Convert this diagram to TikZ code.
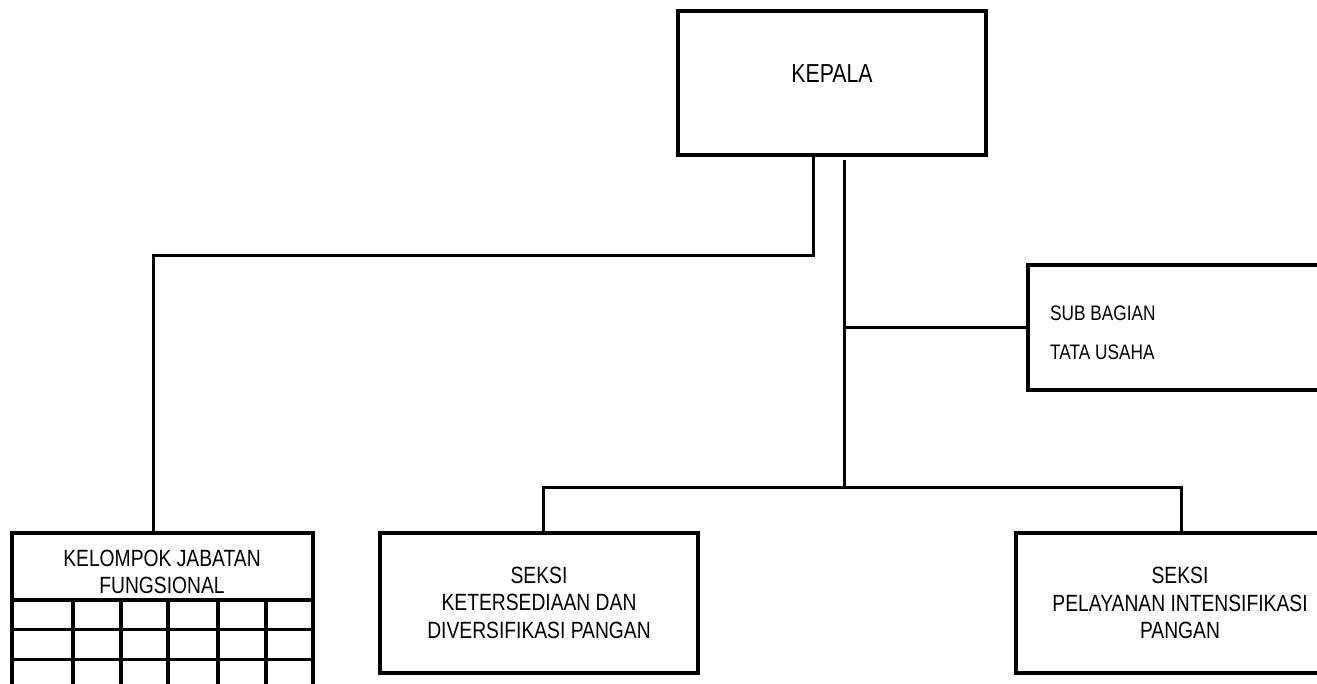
\documentclass[tikz,border=0pt]{standalone}
\usepackage{fontspec}
\setmainfont{Liberation Sans}[FakeStretch=0.82]
\begin{document}
\begin{tikzpicture}[x=1pt,y=1pt,
  box/.style={draw, line width=4pt, inner sep=0pt, outer sep=0pt},
  conn/.style={line width=3pt},
  gridv/.style={line width=4pt},
  gridh/.style={line width=3pt},
  bigtxt/.style={font=\fontsize{26}{30}\selectfont},
  midtxt/.style={align=center, inner sep=0pt, font=\fontsize{23.5}{27.5}\selectfont},
  smalltxt/.style={align=left, inner sep=0pt, font=\fontsize{21}{39}\selectfont}]
\useasboundingbox (0,0) rectangle (1317,684);
\fill[white] (0,0) rectangle (1317,684);
\clip (0,0) rectangle (1317,684);

% boxes
\node[box, minimum width=308pt, minimum height=144pt] (kepala) at (832,601) {};
\node[bigtxt] (kepalatxt) at (832,610) {KEPALA};

\node[box, minimum width=340pt, minimum height=125pt] (sub) at (1198,356.5) {};
\node[smalltxt, anchor=west] (subtxt) at (1050,351.5) {SUB BAGIAN\\TATA USAHA};

\node[box, minimum width=318pt, minimum height=140pt] (ket) at (539,81) {};
\node[midtxt] (kettxt) at (539,81.5) {SEKSI\\KETERSEDIAAN DAN\\DIVERSIFIKASI PANGAN};

\node[box, minimum width=328pt, minimum height=140pt] (pel) at (1180,81) {};
\node[midtxt] (peltxt) at (1180,81) {SEKSI\\PELAYANAN INTENSIFIKASI\\PANGAN};

\node[box, minimum width=301pt, minimum height=67pt] (kjf) at (162.5,117.5) {};
\node[midtxt] (kjftxt) at (162,112) {KELOMPOK JABATAN\\FUNGSIONAL};

% KJF grid below header
\draw[gridv] (kjf.south west) -- ++(0,-120);
\draw[gridv] (kjf.south east) -- ++(0,-120);
\foreach \gx in {73,121,168,218,266} {
  \draw[gridv] (\gx,84) -- (\gx,-20);
}
\draw[gridh] (12,54) -- (313,54);
\draw[gridh] (12,24) -- (313,24);

% connectors
\coordinate (lc) at (153,428);
\draw[conn] ([xshift=-19pt]kepala.south) |- (lc) -- (lc |- kjf.north);

\coordinate (ct) at (844,524);
\coordinate (cb) at (844,196);
\draw[conn] (ct) -- (cb);
\draw[conn] (ct |- sub.west) -- (sub.west);

\coordinate (kx) at (543,196);
\coordinate (px) at (1181,196);
\draw[conn] (kx |- ket.north) -- (kx) -- (px) -- (px |- pel.north);
\end{tikzpicture}
\end{document}
